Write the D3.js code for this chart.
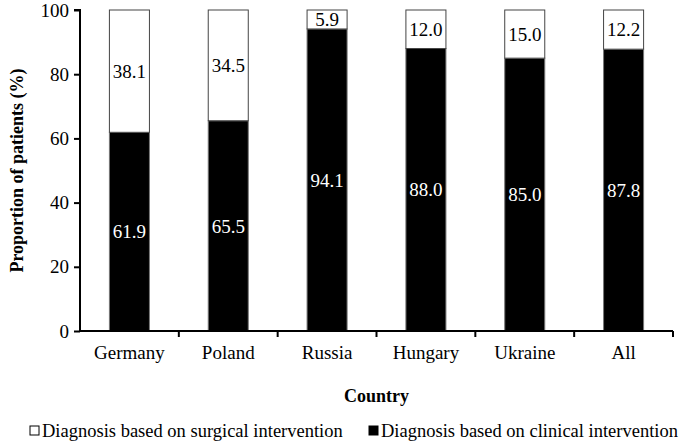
<!DOCTYPE html>
<html><head><meta charset="utf-8">
<script src="https://cdn.jsdelivr.net/npm/d3@7"></script>
<style>body{margin:0;background:#fff}svg{display:block}</style>
</head><body>
<script>
const countries = ["Germany","Poland","Russia","Hungary","Ukraine","All"];
const clinical = [61.9,65.5,94.1,88.0,85.0,87.8];
const surgical = [38.1,34.5,5.9,12.0,15.0,12.2];
const yTicks = [0,20,40,60,80,100];
const seriesNames = ["Diagnosis based on surgical intervention","Diagnosis based on clinical intervention"];

const W=685,H=443;
const m={l:80,r:12,t:10,b:112};
const FS="19px";
const svg=d3.select("body").append("svg").attr("width",W).attr("height",H)
  .style("font-family","'Liberation Serif','Times New Roman',serif");
const x=d3.scaleBand().domain(countries).range([m.l,W-m.r]).paddingInner(0.595).paddingOuter(0.2975);
const y=d3.scaleLinear().domain([0,100]).range([H-m.b,m.t]);

const data=countries.map((c,i)=>({c,clin:clinical[i],surg:surgical[i]}));
const g=svg.append("g");
g.selectAll("rect.clin").data(data).join("rect").attr("class","clin")
  .attr("x",d=>x(d.c)).attr("width",x.bandwidth())
  .attr("y",d=>y(d.clin)).attr("height",d=>y(0)-y(d.clin))
  .attr("fill","#000").attr("stroke","#777").attr("stroke-width",1);
g.selectAll("rect.surg").data(data).join("rect").attr("class","surg")
  .attr("x",d=>x(d.c)).attr("width",x.bandwidth())
  .attr("y",d=>y(d.clin+d.surg)).attr("height",d=>y(d.clin)-y(d.clin+d.surg))
  .attr("fill","#fff").attr("stroke","#444").attr("stroke-width",1);
g.selectAll("text.clin").data(data).join("text").attr("class","clin")
  .attr("x",d=>x(d.c)+x.bandwidth()/2).attr("y",d=>y(d.clin/2))
  .attr("dy","0.35em").attr("text-anchor","middle").attr("fill","#fff")
  .style("font-size",FS).text(d=>d.clin.toFixed(1));
g.selectAll("text.surg").data(data).join("text").attr("class","surg")
  .attr("x",d=>x(d.c)+x.bandwidth()/2).attr("y",d=>y(d.clin+d.surg/2))
  .attr("dy","0.35em").attr("text-anchor","middle").attr("fill","#000")
  .style("font-size",FS).text(d=>d.surg.toFixed(1));

const ya=svg.append("g").attr("transform",`translate(${m.l},0)`)
  .call(d3.axisLeft(y).tickValues(yTicks).tickSize(6).tickPadding(5));
ya.selectAll("text").style("font-size",FS).style("font-family","'Liberation Serif',serif").attr("fill","#000");
ya.select(".domain").attr("stroke","#000").attr("stroke-width",2).attr("d",`M-6,${y(100)}H0V${y(0)}`);
ya.selectAll(".tick line").attr("stroke","#000").attr("stroke-width",2);

const xa=svg.append("g").attr("transform",`translate(0,${y(0)})`)
  .call(d3.axisBottom(x).tickSize(0).tickPadding(15));
xa.selectAll("text").style("font-size",FS).style("font-family","'Liberation Serif',serif").attr("fill","#000");
xa.select(".domain").attr("stroke","#000").attr("stroke-width",2).attr("d",`M${m.l},0H${W-m.r}`);
const step=x.step();
xa.selectAll("line.sep").data(d3.range(1,countries.length+1)).join("line").attr("class","sep")
  .attr("x1",i=>m.l+i*step).attr("x2",i=>m.l+i*step).attr("y1",0).attr("y2",6)
  .attr("stroke","#000").attr("stroke-width",2);

svg.append("text").attr("transform",`translate(17,${(y(0)+y(100))/2}) rotate(-90)`)
  .attr("text-anchor","middle").attr("dy","0.35em").style("font-size","18px").style("font-weight","bold")
  .text("Proportion of patients (%)");
svg.append("text").attr("x",(m.l+W-m.r)/2).attr("y",396).attr("dy","0.35em")
  .attr("text-anchor","middle").style("font-size","18px").style("font-weight","bold").text("Country");

const leg=[{x:30,fill:"#fff",name:seriesNames[0]},{x:369,fill:"#000",name:seriesNames[1]}];
const lg=svg.append("g").selectAll("g").data(leg).join("g").attr("transform",d=>`translate(${d.x},431)`);
lg.append("rect").attr("x",0).attr("y",-5).attr("width",9).attr("height",9)
  .attr("fill",d=>d.fill).attr("stroke","#000").attr("stroke-width",1);
lg.append("text").attr("x",12).attr("dy","0.35em").style("font-size","18.5px").text(d=>d.name);
</script>
</body></html>
